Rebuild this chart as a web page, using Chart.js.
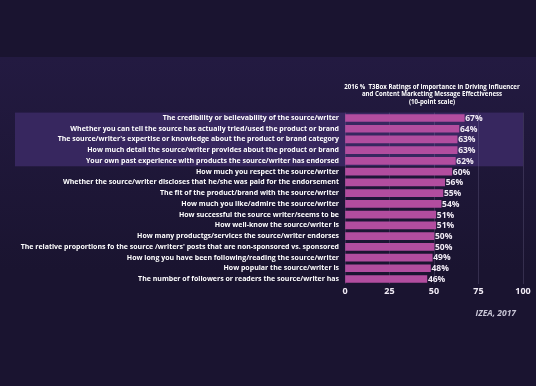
<!DOCTYPE html>
<html>
<head>
<meta charset="utf-8">
<script src="https://cdn.jsdelivr.net/npm/chart.js@4.4.1/dist/chart.umd.min.js"></script>
<style>
html,body{margin:0;padding:0;background:#1a1430;}
#wrap{width:536px;height:386px;position:relative;}
</style>
</head>
<body>
<div id="wrap"><canvas id="c" width="536" height="386"></canvas></div>
<script>
const categories = [
  "The credibility or believability of the source/writer",
  "Whether you can tell the source has actually tried/used the product or brand",
  "The source/writer's expertise or knowledge about the product or brand category",
  "How much detail the source/writer provides about the product or brand",
  "Your own past experience with products the source/writer has endorsed",
  "How much you respect the source/writer",
  "Whether the source/writer discloses that he/she was paid for the endorsement",
  "The fit of the product/brand with the source/writer",
  "How much you like/admire the source/writer",
  "How successful the source writer/seems to be",
  "How well-know the source/writer is",
  "How many productgs/services the source/writer endorses",
  "The relative proportions fo the source /writers' posts that are non-sponsored vs. sponsored",
  "How long you have been following/reading the source/writer",
  "How popular the source/writer is",
  "The number of followers or readers the source/writer has"
];
const values = [67, 64, 63, 63, 62, 60, 56, 55, 54, 51, 51, 50, 50, 49, 48, 46];
const xTicks = [0, 25, 50, 75, 100];
const highlightedRows = 5;
const titleLines = [
  "2016 %  T3Box Ratings of Importance in Driving Influencer",
  "and Content Marketing Message Effectiveness",
  "(10-point scale)"
];
const sourceText = "IZEA, 2017";

const FONT = "'Open Sans', 'DejaVu Sans', sans-serif";

const bgPlugin = {
  id: 'bg',
  beforeDraw(chart) {
    const ctx = chart.ctx;
    ctx.save();
    ctx.fillStyle = '#1a1430';
    ctx.fillRect(0, 0, chart.width, chart.height);
    const g = ctx.createLinearGradient(0, 57, 0, 270);
    g.addColorStop(0, '#231a41');
    g.addColorStop(1, '#1a1430');
    ctx.fillStyle = g;
    ctx.fillRect(0, 57, chart.width, 213);
    const y = chart.scales.y, x = chart.scales.x;
    const half = (y.getPixelForValue(1) - y.getPixelForValue(0)) / 2;
    const top = y.getPixelForValue(0) - half;
    const bot = y.getPixelForValue(highlightedRows - 1) + half;
    ctx.fillStyle = '#37275f';
    ctx.fillRect(15, top, x.getPixelForValue(100) - 15, bot - top);
    ctx.restore();
  }
};

const textPlugin = {
  id: 'texts',
  afterDatasetsDraw(chart) {
    const ctx = chart.ctx;
    const meta = chart.getDatasetMeta(0);
    ctx.save();
    ctx.fillStyle = '#f2ecf6';
    ctx.font = "bold 8.5px " + FONT;
    ctx.textAlign = 'left';
    ctx.textBaseline = 'middle';
    meta.data.forEach((bar, i) => {
      ctx.fillText(values[i] + '%', bar.x + 1, bar.y + 0.5);
    });
    ctx.fillStyle = '#ffffff';
    ctx.font = "bold 6.1px " + FONT;
    ctx.textAlign = 'center';
    const tx = 432;
    [87, 94.5, 102.5].forEach((yy, i) => ctx.fillText(titleLines[i], tx, yy));
    ctx.fillStyle = '#c9c6d6';
    ctx.font = "italic bold 8.5px " + FONT;
    ctx.textAlign = 'right';
    ctx.fillText(sourceText, 516, 314);
    ctx.restore();
  }
};

new Chart(document.getElementById('c'), {
  type: 'bar',
  data: {
    labels: categories,
    datasets: [{
      data: values,
      backgroundColor: '#b24d9f',
      borderWidth: 0,
      barThickness: 7
    }]
  },
  options: {
    indexAxis: 'y',
    responsive: false,
    animation: false,
    devicePixelRatio: 1,
    layout: { padding: { top: 112.6, right: 13, bottom: 0, left: 0 } },
    plugins: { legend: { display: false }, tooltip: { enabled: false }, title: { display: false } },
    scales: {
      x: {
        min: 0, max: 100,
        afterFit(s) { s.height = 386 - 284.4; },
        afterBuildTicks(s) { s.ticks = xTicks.map(v => ({ value: v })); },
        grid: { color: 'rgba(150,140,180,0.22)', lineWidth: 1, drawTicks: false, drawOnChartArea: true },
        border: { display: false },
        ticks: { color: '#f2ecf6', font: { family: FONT, weight: 'bold', size: 9 }, padding: 2 }
      },
      y: {
        afterFit(s) { s.width = 345; },
        grid: { display: false, drawTicks: false },
        border: { display: false },
        ticks: { color: '#ffffff', font: { family: FONT, weight: 'bold', size: 7 }, padding: 6, autoSkip: false }
      }
    }
  },
  plugins: [bgPlugin, textPlugin]
});
</script>
</body>
</html>
